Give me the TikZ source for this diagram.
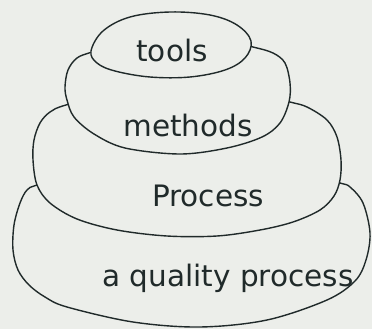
\documentclass[tikz,border=0pt]{standalone}
\usepackage{fontspec}
\setmainfont{DejaVu Sans}
\definecolor{paper}{RGB}{236,238,234}
\definecolor{ink}{RGB}{32,42,42}
\tikzset{
  layer/.style={draw=ink, fill=paper, line width=1.4pt, line join=round},
  lbl/.style={text=ink, font=\fontsize{29.5}{31}\selectfont, anchor=base, inner sep=0pt}
}
\begin{document}
\begin{tikzpicture}[x=1pt,y=-1pt]
\fill[paper] (0,0) rectangle (372,329);
\useasboundingbox (0,0) rectangle (372,329);
% bottom layer
\path[layer] plot[smooth cycle, tension=0.55] coordinates {
 (37,185) (27,190) (20,203) (14,225) (13,250) (18,270) (29,285) (45,297) (67,307)
 (133,322) (200,327) (267,320) (327,300) (355,281) (366,260) (370,233) (363,203)
 (350,187) (340,183) (300,172) (80,172)};
% process layer
\path[layer] plot[smooth cycle, tension=0.55] coordinates {
 (66,105) (50,112) (40,123) (34,140) (33,160) (37,185) (50,203) (77,219) (117,230)
 (167,236) (217,236) (260,230) (293,222) (320,210) (334,196) (340,180) (341,160)
 (337,137) (327,120) (307,107) (290,102) (250,92) (120,92)};
% methods layer
\path[layer] plot[smooth cycle, tension=0.55] coordinates {
 (92,52) (77,58) (68,70) (65,87) (67,100) (74,117) (94,134) (125,148) (180,154)
 (227,148) (262,137) (280,123) (289,102) (290,83) (285,63) (273,53) (253,47)
 (220,40) (130,40)};
% tools layer
\path[layer] plot[smooth cycle, tension=0.6] coordinates {
 (91,51) (103,31) (130,17) (170,12) (210,15) (237,25) (251,41) (245,58) (225,70)
 (190,77) (150,77) (115,71) (97,63)};
\node[lbl] (tools) at (172,62) {tools};
\node[lbl] (methods) at (188,136) {methods};
\node[lbl] (process) at (208,206) {Process};
\node[lbl] (quality) at (228,286) {a quality process};
\end{tikzpicture}
\end{document}
